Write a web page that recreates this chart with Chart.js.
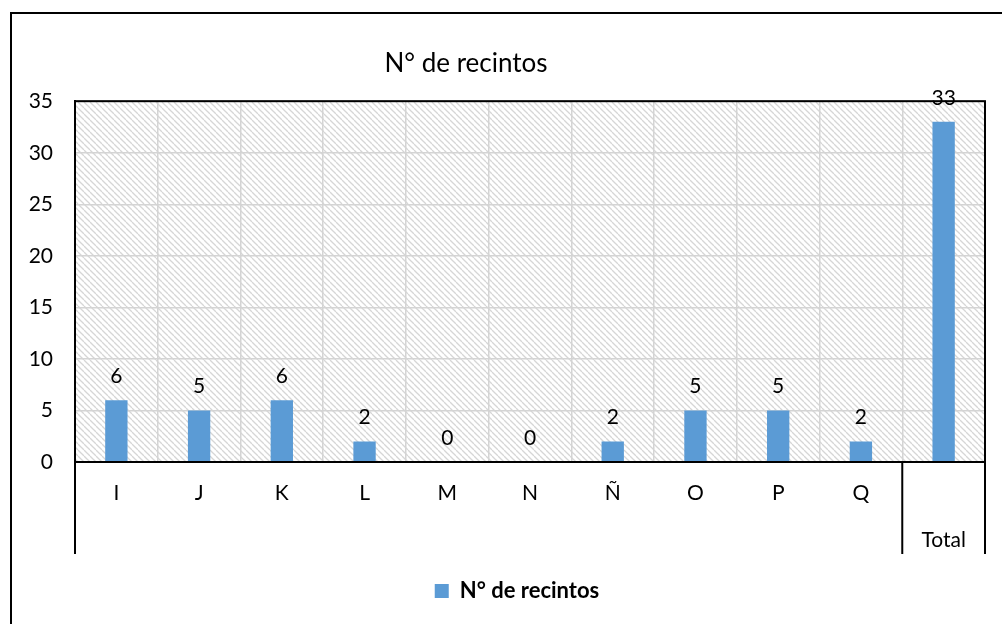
<!DOCTYPE html>
<html>
<head>
<meta charset="utf-8">
<script src="https://cdn.jsdelivr.net/npm/chart.js@4/dist/chart.umd.min.js"></script>
<style>
  html, body { margin: 0; padding: 0; background: #ffffff; }
  canvas { display: block; }
</style>
</head>
<body>
<canvas id="c" width="1002" height="624"></canvas>
<script>
// ---- data ----
const categories = ['I', 'J', 'K', 'L', 'M', 'N', 'Ñ', 'O', 'P', 'Q', 'Total'];
const groupLabels = ['', '', '', '', '', '', '', '', '', '', 'Total'];
const values = [6, 5, 6, 2, 0, 0, 2, 5, 5, 2, 33];
const seriesName = 'N° de recintos';
const chartTitle = 'N° de recintos';
const yMin = 0, yMax = 35, yStep = 5;

const FONT = 'Lato, "Open Sans", sans-serif';
const BAR = '#5B9BD5';

// tick labels: first row = category, second row = group label
const tickLabels = categories.map((c, i) => groupLabels[i] ? ['', groupLabels[i]] : [c, '']);

function makeHatch() {
  const s = 6;
  const p = document.createElement('canvas');
  p.width = s; p.height = s;
  const g = p.getContext('2d');
  g.fillStyle = '#ffffff';
  g.fillRect(0, 0, s, s);
  g.strokeStyle = '#d6d6d6';
  g.lineWidth = 1.3;
  for (const x0 of [-s, 0, s]) {
    g.beginPath();
    g.moveTo(x0, 0);
    g.lineTo(x0 + s, s);
    g.stroke();
  }
  return p;
}

const TITLE_CX = 466;
const LEGEND_CX = 517;

const framePlugin = {
  id: 'frame',
  afterLayout(chart) {
    // Excel-style manual placement of title and legend
    const t = chart.titleBlock;
    if (t) {
      const hw = (t.right - t.left) / 2;
      t.left = TITLE_CX - hw; t.right = TITLE_CX + hw;
    }
    const l = chart.legend;
    if (l) {
      const shift = LEGEND_CX - (l.left + l.right) / 2;
      l.left += shift; l.right += shift;
    }
  },
  beforeDraw(chart) {
    const ctx = chart.ctx;
    const a = chart.chartArea;
    ctx.save();
    ctx.fillStyle = '#ffffff';
    ctx.fillRect(0, 0, chart.width, chart.height);
    // outer chart border (top and left visible)
    ctx.strokeStyle = '#000000';
    ctx.lineWidth = 2;
    ctx.strokeRect(11, 13, chart.width + 20, chart.height + 20);
    // hatched plot area
    ctx.fillStyle = ctx.createPattern(makeHatch(), 'repeat');
    ctx.fillRect(a.left, a.top, a.right - a.left, a.bottom - a.top);
    ctx.restore();
  },
  afterDraw(chart) {
    const ctx = chart.ctx;
    const a = chart.chartArea;
    const xs = chart.scales.x;
    ctx.save();
    ctx.strokeStyle = '#000000';
    ctx.lineWidth = 2;
    ctx.strokeRect(a.left, a.top, a.right - a.left, a.bottom - a.top);
    // multi-level category dividers
    const n = categories.length;
    const divX = (xs.getPixelForTick(n - 2) + xs.getPixelForTick(n - 1)) / 2;
    const yb = a.bottom + 92;
    ctx.beginPath();
    for (const x of [a.left, divX, a.right]) {
      ctx.moveTo(x, a.bottom);
      ctx.lineTo(x, yb);
    }
    ctx.stroke();
    // data labels
    const meta = chart.getDatasetMeta(0);
    ctx.fillStyle = '#000000';
    ctx.font = '21px ' + FONT;
    ctx.textAlign = 'center';
    ctx.textBaseline = 'middle';
    meta.data.forEach((bar, i) => {
      ctx.fillText(String(values[i]), bar.x, bar.y - 24);
    });
    ctx.restore();
  }
};

new Chart(document.getElementById('c'), {
  type: 'bar',
  data: {
    labels: tickLabels,
    datasets: [{
      label: seriesName,
      data: values,
      backgroundColor: BAR,
      borderWidth: 0,
      categoryPercentage: 1,
      barPercentage: 0.27
    }]
  },
  options: {
    responsive: false,
    animation: false,
    devicePixelRatio: 1,
    layout: { padding: { left: 20, right: 17, top: 0, bottom: 12 } },
    plugins: {
      title: {
        display: true,
        text: chartTitle,
        color: '#000000',
        font: { family: FONT, size: 26, weight: 'normal', lineHeight: 1.2 },
        padding: { top: 48, bottom: 22 }
      },
      legend: {
        display: true,
        position: 'bottom',
        labels: {
          color: '#000000',
          font: { family: FONT, size: 22, weight: 'bold' },
          boxWidth: 14,
          boxHeight: 14,
          padding: 28
        }
      },
      tooltip: { enabled: false }
    },
    scales: {
      x: {
        offset: true,
        grid: { offset: true, color: '#d4d4d4', lineWidth: 1.5, drawTicks: false },
        border: { display: true, color: '#000000', width: 2 },
        ticks: {
          color: '#000000',
          font: { family: FONT, size: 21, lineHeight: 2.24 },
          padding: 8,
          maxRotation: 0,
          autoSkip: false
        },
        afterFit(scale) { scale.height = 90; }
      },
      y: {
        min: yMin,
        max: yMax,
        grid: { color: '#d4d4d4', lineWidth: 1.5, drawTicks: false },
        border: { display: true, color: '#000000', width: 2 },
        ticks: {
          stepSize: yStep,
          color: '#000000',
          font: { family: FONT, size: 21 },
          padding: 22
        },
        afterFit(scale) { scale.width = 55; }
      }
    }
  },
  plugins: [framePlugin]
});
</script>
</body>
</html>
